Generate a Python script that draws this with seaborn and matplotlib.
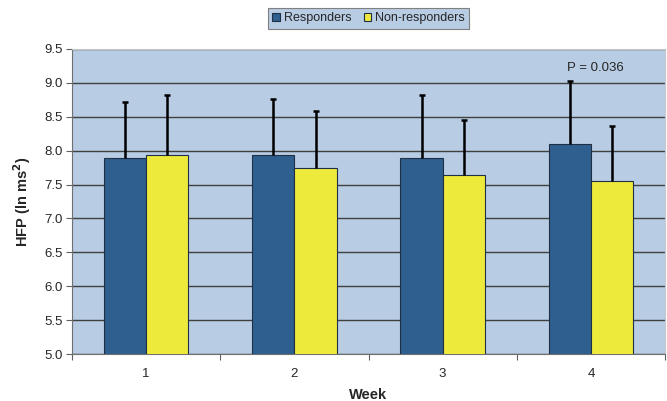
#!/usr/bin/env python3

import matplotlib.pyplot as plt
import numpy as np
import pandas as pd
import seaborn as sns


WEEKS = ['1', '2', '3', '4']
GROUPS = ['Responders', 'Non-responders']
RESP_MEAN = [7.89, 7.93, 7.89, 8.10]
RESP_SD = [0.82, 0.83, 0.93, 0.93]
NONRESP_MEAN = [7.93, 7.75, 7.64, 7.55]
NONRESP_SD = [0.89, 0.84, 0.81, 0.82]
P_LABEL = 'P = 0.036'

COLOURS = ['#2F5F8F', '#EEEA3C']
BG = '#B8CCE4'

sns.set_style('white')
plt.rcParams['font.family'] = ['Liberation Sans', 'DejaVu Sans']

df = pd.DataFrame({
    'week': WEEKS * 2,
    'group': [GROUPS[0]] * 4 + [GROUPS[1]] * 4,
    'hfp': RESP_MEAN + NONRESP_MEAN,
    'sd': RESP_SD + NONRESP_SD,
})

fig = plt.figure(figsize=(6.67, 4.01), dpi=100)
ax = fig.add_axes([0.108, 0.117, 0.889, 0.761])
ax.set_facecolor(BG)

sns.barplot(data=df, x='week', y='hfp', hue='group', palette=COLOURS,
            saturation=1, width=0.57, gap=0, edgecolor='#1F2F45',
            linewidth=0.8, errorbar=None, ax=ax, zorder=3)

# upward-only error bars, taken from the bar patches
for bars, grp in zip(ax.containers, GROUPS):
    sub = df[df['group'] == grp]
    xs = [b.get_x() + b.get_width() / 2 for b in bars]
    ys = [b.get_height() for b in bars]
    eb = ax.errorbar(xs, ys, yerr=[np.zeros(len(xs)), sub['sd'].values],
                     fmt='none', ecolor='black', elinewidth=1.8,
                     capsize=2.5, capthick=1.8, zorder=4)
    eb[1][0].remove()  # drop the lower cap

ax.set_ylim(5.0, 9.5)
ax.set_yticks(np.arange(5.0, 9.51, 0.5))
ax.set_yticklabels([f'{v:.1f}' for v in np.arange(5.0, 9.51, 0.5)])
ax.yaxis.grid(True, color='#404040', linewidth=1.0, zorder=1)
ax.set_axisbelow(True)

ax.set_xlim(-0.5, 3.5)
ax.set_xticks([-0.5, 0.5, 1.5, 2.5, 3.5])
ax.set_xticklabels([''] * 5)
ax.set_xticks(range(4), minor=True)
ax.set_xticklabels(WEEKS, minor=True)
ax.tick_params(axis='x', which='minor', length=0, pad=10, labelsize=9.5)
ax.tick_params(axis='x', which='major', length=4, color='#606060',
               direction='out', bottom=True)
ax.tick_params(axis='y', length=4, color='#606060', direction='out',
               left=True, labelsize=9.5, pad=3)

for s in ['left', 'bottom']:
    ax.spines[s].set_color('#707070')
for s in ['right', 'top']:
    ax.spines[s].set_color('#C8C8C8')

ax.set_xlabel('Week', fontsize=10.5, fontweight='bold', labelpad=6)
ax.set_ylabel('HFP (ln ms$^\\mathbf{2}$)', fontsize=10.5,
              fontweight='bold', labelpad=8)

ax.text(3.03, 9.22, P_LABEL, ha='center', va='center', fontsize=9.5)

leg = ax.legend(loc='upper center', bbox_to_anchor=(0.5, 1.155), ncol=2,
                frameon=True, fancybox=False, fontsize=9, handlelength=0.6,
                handleheight=0.6, handletextpad=0.3, columnspacing=1.0,
                borderpad=0.35)
leg.get_frame().set_facecolor(BG)
leg.get_frame().set_edgecolor('#808080')
leg.get_frame().set_linewidth(0.8)
leg.get_frame().set_alpha(1)

fig.savefig('out.png', dpi=100)
